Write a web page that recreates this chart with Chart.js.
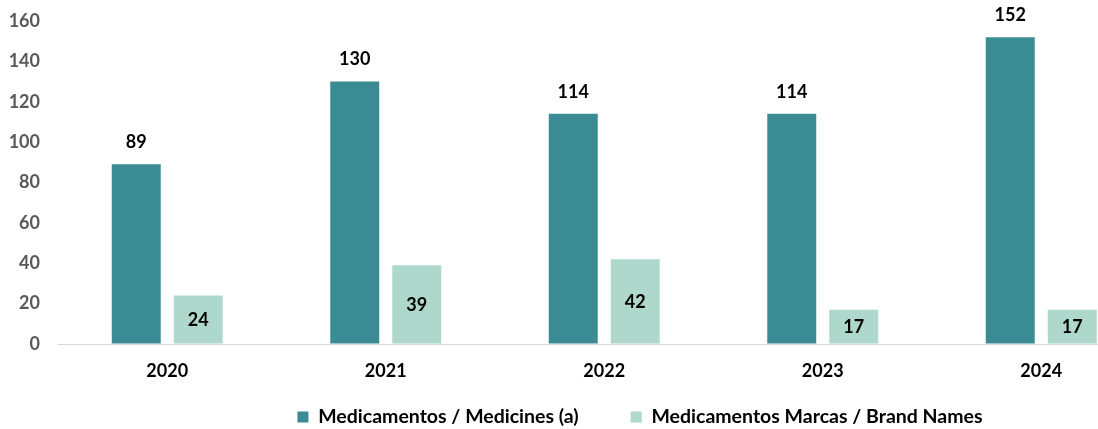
<!DOCTYPE html>
<html>
<head>
<meta charset="utf-8">
<script src="https://cdn.jsdelivr.net/npm/chart.js@4.4.1/dist/chart.umd.min.js"></script>
<style>
  html, body { margin: 0; padding: 0; background: #ffffff; overflow: hidden; }
  #wrap { width: 1098px; height: 429px; overflow: hidden; position: relative; }
  canvas { display: block; }
</style>
</head>
<body>
<div id="wrap"><canvas id="c" width="1160" height="429"></canvas></div>
<script>
const categories = ['2020', '2021', '2022', '2023', '2024'];
const medicines = [89, 130, 114, 114, 152];
const brandNames = [24, 39, 42, 17, 17];
const seriesNames = ['Medicamentos / Medicines (a)', 'Medicamentos Marcas / Brand Names'];
const yTicks = [0, 20, 40, 60, 80, 100, 120, 140, 160];

const FONT = 'Lato, "Open Sans", "DejaVu Sans", sans-serif';

const valueLabels = {
  id: 'valueLabels',
  afterDatasetsDraw(chart) {
    const ctx = chart.ctx;
    ctx.save();
    ctx.font = 'bold 18px ' + FONT;
    ctx.fillStyle = '#000000';
    ctx.textAlign = 'center';
    ctx.textBaseline = 'middle';
    chart.data.datasets.forEach((ds, di) => {
      const meta = chart.getDatasetMeta(di);
      meta.data.forEach((bar, i) => {
        const v = ds.data[i];
        const y = di === 0 ? bar.y - 22 : (bar.y + bar.base) / 2 + 1;
        ctx.fillText(String(v), bar.x, y);
      });
    });
    ctx.restore();
  }
};

const legendPlace = {
  id: 'legendPlace',
  afterLayout(chart) {
    const lg = chart.legend;
    if (!lg) return;
    const dx = 640 - (lg.left + lg.right) / 2;
    lg.left += dx;
    lg.right += dx;
    const pad = lg.options.labels.padding;
    const fs = lg.options.labels.font.size;
    lg.top = 417 - pad - fs / 2;
    lg.bottom = chart.height;
  }
};

new Chart(document.getElementById('c'), {
  type: 'bar',
  data: {
    labels: categories,
    datasets: [
      {
        label: seriesNames[0],
        data: medicines,
        backgroundColor: '#3B8B94',
        borderWidth: 0,
        categoryPercentage: 0.5675,
        barPercentage: 0.79
      },
      {
        label: seriesNames[1],
        data: brandNames,
        backgroundColor: '#AED8CC',
        borderWidth: 0,
        categoryPercentage: 0.5675,
        barPercentage: 0.79
      }
    ]
  },
  options: {
    responsive: false,
    animation: false,
    layout: { padding: { top: 21, right: 9.5, left: 0, bottom: 0 } },
    plugins: {
      tooltip: { enabled: false },
      legend: {
        position: 'bottom',
        maxHeight: 48,
        labels: {
          boxWidth: 11,
          boxHeight: 11,
          padding: 52,
          color: '#000000',
          font: { family: FONT, size: 19.5, weight: 'bold' }
        }
      }
    },
    scales: {
      x: {
        grid: { display: false, drawTicks: false },
        border: { display: true, color: '#D9D9D9', width: 1 },
        ticks: {
          color: '#000000',
          padding: 16,
          font: { family: FONT, size: 18, weight: 'bold' }
        },
        afterFit(scale) { scale.height = 37; }
      },
      y: {
        min: 0,
        max: 160,
        grid: {
          display: true,
          drawOnChartArea: false,
          drawTicks: true,
          tickLength: 18,
          color: 'rgba(0,0,0,0)'
        },
        border: { display: false },
        afterBuildTicks(scale) { scale.ticks = yTicks.map(v => ({ value: v })); },
        ticks: {
          color: '#595959',
          padding: 0,
          font: { family: FONT, size: 18, weight: 'bold' }
        },
        afterFit(scale) { scale.width = 58; }
      }
    }
  },
  plugins: [valueLabels, legendPlace]
});
</script>
</body>
</html>
